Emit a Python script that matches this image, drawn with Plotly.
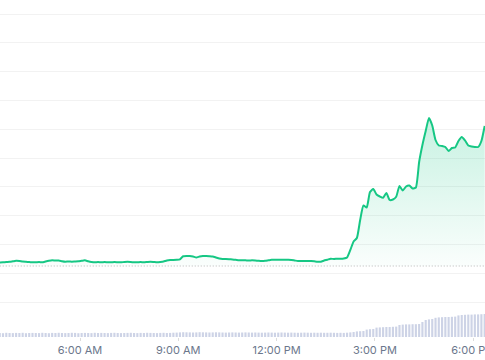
import pandas as pd
import plotly.graph_objects as go

# time axis: 6-minute samples, 3:33 AM -> 6:21 PM
times = pd.date_range("2024-05-14 03:33", periods=149, freq="6min")

price = [
    0.31372, 0.31378, 0.31389, 0.31396, 0.31413, 0.31431, 0.31424, 0.31403, 0.31396, 0.31389,
    0.31378, 0.31378, 0.31389, 0.31378, 0.31406, 0.31431, 0.31448, 0.31441, 0.31441, 0.31417,
    0.31399, 0.31406, 0.31399, 0.31406, 0.31413, 0.31431, 0.31448, 0.31413, 0.31389, 0.31378,
    0.31389, 0.31378, 0.31389, 0.31378, 0.31378, 0.31389, 0.31382, 0.31378, 0.31389, 0.31396,
    0.31389, 0.31378, 0.31378, 0.31389, 0.31378, 0.31389, 0.31399, 0.31389, 0.31378, 0.31389,
    0.31406, 0.31441, 0.31458, 0.31458, 0.31465, 0.31483, 0.31587, 0.31597, 0.31597, 0.31580,
    0.31545, 0.31580, 0.31597, 0.31597, 0.31590, 0.31580, 0.31545, 0.31510, 0.31493, 0.31493,
    0.31486, 0.31476, 0.31465, 0.31451, 0.31448, 0.31448, 0.31441, 0.31448, 0.31441, 0.31431,
    0.31424, 0.31431, 0.31448, 0.31465, 0.31469, 0.31469, 0.31469, 0.31469, 0.31465, 0.31458,
    0.31441, 0.31424, 0.31424, 0.31424, 0.31424, 0.31424, 0.31413, 0.31399, 0.31399, 0.31441,
    0.31469, 0.31503, 0.31493, 0.31503, 0.31500, 0.31510, 0.31545, 0.31806, 0.32101, 0.32222,
    0.32847, 0.33351, 0.33281, 0.33819, 0.33924, 0.33733, 0.33663, 0.33618, 0.33785, 0.33542,
    0.33559, 0.33656, 0.34028, 0.33872, 0.34010, 0.34045, 0.33941, 0.33976, 0.34861, 0.35451,
    0.35937, 0.36389, 0.36128, 0.35625, 0.35434, 0.35417, 0.35382, 0.35243, 0.35347, 0.35365,
    0.35590, 0.35729, 0.35608, 0.35434, 0.35399, 0.35382, 0.35382, 0.35590, 0.36111,
]

# traded volume per interval, thousand USD
volume_k = [
    200, 190, 210, 200, 195, 205, 200, 210, 190, 200,
    205, 200, 195, 210, 200, 190, 205, 200, 210, 200,
    195, 200, 210, 205, 190, 200, 205, 200, 195, 210,
    200, 205, 200, 195, 205, 210, 200, 195, 200, 205,
    210, 200, 195, 205, 200, 210, 205, 200, 195, 205,
    210, 200, 205, 215, 220, 230, 240, 235, 230, 225,
    230, 240, 235, 230, 225, 230, 235, 230, 225, 220,
    225, 230, 225, 220, 225, 230, 225, 220, 225, 220,
    215, 220, 225, 220, 215, 220, 225, 220, 215, 220,
    215, 210, 215, 220, 215, 210, 215, 210, 215, 210,
    210, 215, 210, 205, 210, 205, 215, 230, 250, 280,
    290, 300, 370, 390, 400, 470, 480, 490, 500, 500,
    510, 520, 600, 620, 630, 630, 640, 640, 650, 750,
    850, 880, 900, 960, 980, 990, 1000, 1000, 1010, 1020,
    1080, 1100, 1110, 1120, 1120, 1130, 1130, 1140, 1150,
]

open_price = 0.3125
grid_vals = [0.30, 0.31, 0.32, 0.33, 0.34, 0.35, 0.36, 0.37, 0.38, 0.39, 0.40]

fig = go.Figure()

fig.add_trace(go.Bar(
    x=times, y=volume_k, yaxis="y2",
    marker=dict(color="#cdd3e6", line=dict(width=0)),
    hoverinfo="skip", showlegend=False,
))

fig.add_trace(go.Scatter(
    x=times, y=[open_price] * len(times), mode="lines",
    line=dict(color="#b5b5b5", width=1, dash="1px,2px"),
    hoverinfo="skip", showlegend=False,
))

fig.add_trace(go.Scatter(
    x=times, y=price, mode="lines",
    line=dict(color="#16c784", width=2, shape="spline", smoothing=0.5),
    fill="tonexty",
    fillgradient=dict(
        type="vertical",
        start=open_price, stop=max(price),
        colorscale=[[0, "rgba(22,199,132,0.02)"], [1, "rgba(22,199,132,0.24)"]],
    ),
    showlegend=False,
))

fig.update_layout(
    width=485, height=360,
    margin=dict(l=0, r=0, t=0, b=23),
    paper_bgcolor="white", plot_bgcolor="white",
    bargap=0.35,
    font=dict(family="Inter", size=11, color="#6b778c"),
    xaxis=dict(
        type="date",
        range=["2024-05-14 03:33:30", "2024-05-14 18:21:36"],
        tick0="2024-05-14 00:00", dtick=3 * 3600 * 1000,
        tickformat="%-I:%M %p",
        ticklabeloverflow="allow",
        automargin=False,
        showgrid=False, zeroline=False, showline=False,
        ticks="outside", ticklen=3, tickcolor="#dcdcdc",
    ),
    yaxis=dict(
        range=[0.287847, 0.404861],
        tickvals=grid_vals, showticklabels=False,
        showgrid=True, gridcolor="#f2f2f2", gridwidth=1,
        zeroline=False, showline=False, automargin=False,
    ),
    yaxis2=dict(
        range=[0, 16850], overlaying="y", visible=False,
    ),
)

fig.write_html(
    "out.html",
    config={"displayModeBar": False},
    post_script="document.body.style.margin='0';document.body.style.overflow='hidden';",
)
